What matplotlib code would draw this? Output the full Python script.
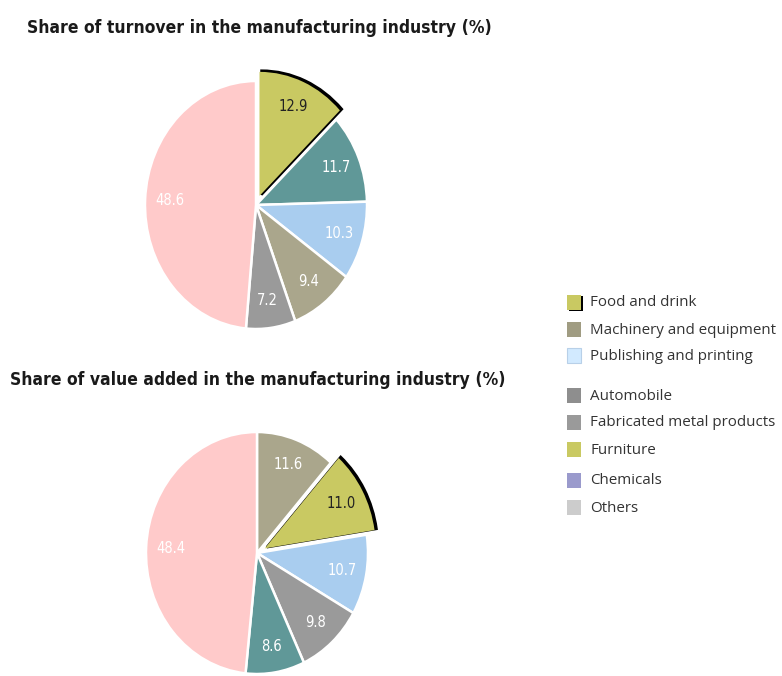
import matplotlib.pyplot as plt
from matplotlib import font_manager
from matplotlib.patches import Rectangle, Shadow

# ==============================
# Data
# ==============================

turnover_values = [12.9, 11.7, 10.3, 9.4, 7.2, 48.6]
turnover_colors = ["#c9c962", "#609898", "#a9cdef", "#aaa68c", "#9a9a9a", "#ffcaca"]
turnover_explode = [0.08, 0, 0, 0, 0, 0]

value_added_values = [11.6, 11.0, 10.7, 9.8, 8.6, 48.4]
value_added_colors = ["#aaa68c", "#c9c962", "#a9cdef", "#9a9a9a", "#609898", "#ffcaca"]
value_added_explode = [0, 0.08, 0, 0, 0, 0]

legend_labels = ["Food and drink", "Machinery and equipment", "Publishing and printing",
                 "Automobile", "Fabricated metal products", "Furniture",
                 "Chemicals", "Others"]
legend_colors = ["#c9c962", "#a09c82", "#d2eaff",
                 "#8e8e8e", "#9a9a9a", "#c9c962",
                 "#9a9acc", "#cccccc"]

titles = ["Share of turnover in the manufacturing industry (%)",
          "Share of value added in the manufacturing industry (%)"]

# ==============================
# Figure
# ==============================

W, H = 782, 676
fig = plt.figure(figsize=(W / 100, H / 100), dpi=100)

names = {f.name for f in font_manager.fontManager.ttflist}
TITLE_FONT = "Liberation Sans Narrow" if "Liberation Sans Narrow" in names else "DejaVu Sans"
LABEL_FONT = TITLE_FONT


def draw_pie(values, colors, explode, cx, cy, rx, ry, dark_idx):
    lim = 1.35
    ax = fig.add_axes([(cx - rx * lim) / W, 1 - (cy + ry * lim) / H,
                       2 * rx * lim / W, 2 * ry * lim / H])
    wedges, texts = ax.pie(values, colors=colors, explode=explode,
                           labels=[f"{v:.1f}" for v in values],
                           labeldistance=0.78, startangle=90, counterclock=False,
                           wedgeprops=dict(edgecolor="white", linewidth=1.8))
    ax.set_aspect("auto")
    ax.set_xlim(-lim, lim)
    ax.set_ylim(-lim, lim)
    for i, t in enumerate(texts):
        t.set_ha("center")
        t.set_va("center")
        t.set_fontfamily(LABEL_FONT)
        t.set_fontstretch("condensed")
        t.set_fontsize(10.5)
        t.set_color("#222222" if i == dark_idx else "white")
    # dark shadow on the exploded slice
    w = wedges[dark_idx]
    w.set_edgecolor("none")
    sh = Shadow(w, 0.013, 0.007)
    sh.set_facecolor("black")
    sh.set_edgecolor("black")
    sh.set_alpha(1)
    sh.set_zorder(w.get_zorder() - 0.5)
    ax.add_patch(sh)
    ax.axis("off")


draw_pie(turnover_values, turnover_colors, turnover_explode, 256, 205, 111, 124, 0)
draw_pie(value_added_values, value_added_colors, value_added_explode, 257, 553, 111, 121, 1)

for (x, y), title in zip([(27, 28), (10, 380)], titles):
    fig.text(x / W, 1 - y / H, title, fontsize=12.5, fontweight="bold",
             family=TITLE_FONT, fontstretch="condensed", color="#1a1a1a",
             ha="left", va="center")

# ==============================
# Legend
# ==============================

lax = fig.add_axes([0, 0, 1, 1])
lax.set_xlim(0, W)
lax.set_ylim(H, 0)
lax.axis("off")

rows_y = [303, 330, 356, 396, 423, 450, 481, 508]
for i, (lab, col, y) in enumerate(zip(legend_labels, legend_colors, rows_y)):
    if i == 0:
        lax.add_patch(Rectangle((569, y - 7), 14, 15, facecolor="black", edgecolor="none"))
    ec = "#b8d0e8" if i == 2 else "none"
    lax.add_patch(Rectangle((567, y - 8), 14, 15, facecolor=col, edgecolor=ec, linewidth=0.8))
    lax.text(590, y, lab, fontsize=10.9, family="Open Sans", color="#333333",
             ha="left", va="center")

fig.savefig("out.png", dpi=100)
